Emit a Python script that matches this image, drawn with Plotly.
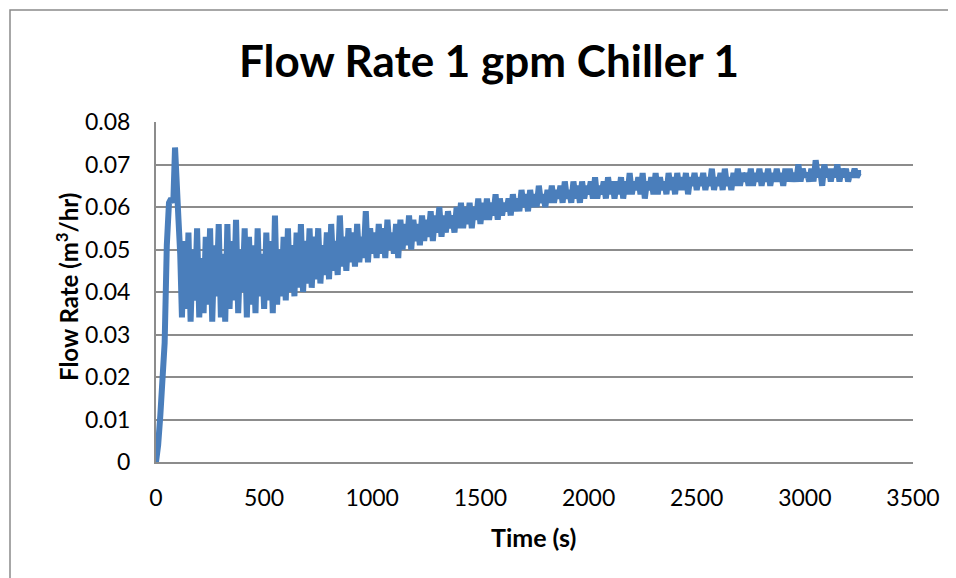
import plotly.graph_objects as go

# Time (s) sample points
time_s = [0, 10, 20, 30, 40, 50, 60, 70, 80, 88, 96, 104, 112, 120,
          130, 140, 150, 160, 170, 180, 190, 200, 210, 220,
          230, 240, 250, 260, 270, 280, 290, 300, 310, 320,
          330, 340, 350, 360, 370, 380, 390, 400, 410, 420,
          430, 440, 450, 460, 470, 480, 490, 500, 510, 520,
          530, 540, 550, 560, 570, 580, 590, 600, 610, 620,
          630, 640, 650, 660, 670, 680, 690, 700, 710, 720,
          730, 740, 750, 760, 770, 780, 790, 800, 810, 820,
          830, 840, 850, 860, 870, 880, 890, 900, 910, 920,
          930, 940, 950, 960, 970, 980, 990, 1000, 1010, 1020,
          1030, 1040, 1050, 1060, 1070, 1080, 1090, 1100, 1110, 1120,
          1130, 1140, 1150, 1160, 1170, 1180, 1190, 1200, 1210, 1220,
          1230, 1240, 1250, 1260, 1270, 1280, 1290, 1300, 1310, 1320,
          1330, 1340, 1350, 1360, 1370, 1380, 1390, 1400, 1410, 1420,
          1430, 1440, 1450, 1460, 1470, 1480, 1490, 1500, 1510, 1520,
          1530, 1540, 1550, 1560, 1570, 1580, 1590, 1600, 1610, 1620,
          1630, 1640, 1650, 1660, 1670, 1680, 1690, 1700, 1710, 1720,
          1730, 1740, 1750, 1760, 1770, 1780, 1790, 1800, 1810, 1820,
          1830, 1840, 1850, 1860, 1870, 1880, 1890, 1900, 1910, 1920,
          1930, 1940, 1950, 1960, 1970, 1980, 1990, 2000, 2010, 2020,
          2030, 2040, 2050, 2060, 2070, 2080, 2090, 2100, 2110, 2120,
          2130, 2140, 2150, 2160, 2170, 2180, 2190, 2200, 2210, 2220,
          2230, 2240, 2250, 2260, 2270, 2280, 2290, 2300, 2310, 2320,
          2330, 2340, 2350, 2360, 2370, 2380, 2390, 2400, 2410, 2420,
          2430, 2440, 2450, 2460, 2470, 2480, 2490, 2500, 2510, 2520,
          2530, 2540, 2550, 2560, 2570, 2580, 2590, 2600, 2610, 2620,
          2630, 2640, 2650, 2660, 2670, 2680, 2690, 2700, 2710, 2720,
          2730, 2740, 2750, 2760, 2770, 2780, 2790, 2800, 2810, 2820,
          2830, 2840, 2850, 2860, 2870, 2880, 2890, 2900, 2910, 2920,
          2930, 2940, 2950, 2960, 2970, 2980, 2990, 3000, 3010, 3020,
          3030, 3040, 3050, 3060, 3070, 3080, 3090, 3100, 3110, 3120,
          3130, 3140, 3150, 3160, 3170, 3180, 3190, 3200, 3210, 3220,
          3230, 3240, 3250, 3260]

# Flow rate (m3/hr)
flow_rate = [0.000, 0.004, 0.011, 0.019, 0.028, 0.051, 0.061, 0.062, 0.061, 0.074, 0.060, 0.057, 0.049, 0.034,
             0.052, 0.036, 0.054, 0.033, 0.050, 0.038, 0.055, 0.034, 0.048, 0.035,
             0.053, 0.037, 0.055, 0.033, 0.051, 0.039, 0.056, 0.034, 0.049, 0.033,
             0.056, 0.036, 0.052, 0.038, 0.057, 0.035, 0.050, 0.040, 0.055, 0.034,
             0.053, 0.037, 0.051, 0.035, 0.055, 0.039, 0.049, 0.036, 0.054, 0.038,
             0.052, 0.035, 0.058, 0.037, 0.050, 0.039, 0.053, 0.038, 0.055, 0.040,
             0.051, 0.039, 0.054, 0.041, 0.056, 0.040, 0.052, 0.042, 0.055, 0.041,
             0.053, 0.043, 0.055, 0.042, 0.051, 0.044, 0.054, 0.043, 0.056, 0.045,
             0.052, 0.044, 0.058, 0.046, 0.053, 0.045, 0.055, 0.047, 0.054, 0.046,
             0.056, 0.047, 0.053, 0.048, 0.059, 0.047, 0.055, 0.049, 0.054, 0.048,
             0.056, 0.049, 0.055, 0.048, 0.057, 0.050, 0.054, 0.049, 0.056, 0.048,
             0.057, 0.050, 0.056, 0.051, 0.058, 0.050, 0.057, 0.052, 0.056, 0.051,
             0.058, 0.052, 0.057, 0.053, 0.059, 0.052, 0.058, 0.054, 0.060, 0.053,
             0.058, 0.054, 0.059, 0.055, 0.058, 0.054, 0.060, 0.055, 0.061, 0.055,
             0.060, 0.056, 0.061, 0.055, 0.060, 0.057, 0.062, 0.056, 0.061, 0.057,
             0.062, 0.057, 0.061, 0.058, 0.063, 0.057, 0.062, 0.058, 0.061, 0.059,
             0.062, 0.058, 0.063, 0.059, 0.062, 0.059, 0.064, 0.060, 0.063, 0.059,
             0.064, 0.060, 0.063, 0.060, 0.065, 0.061, 0.063, 0.060, 0.064, 0.061,
             0.065, 0.061, 0.064, 0.062, 0.065, 0.061, 0.066, 0.062, 0.064, 0.061,
             0.066, 0.062, 0.065, 0.061, 0.066, 0.062, 0.065, 0.063, 0.066, 0.062,
             0.067, 0.062, 0.065, 0.063, 0.066, 0.062, 0.067, 0.063, 0.066, 0.062,
             0.066, 0.063, 0.067, 0.062, 0.066, 0.063, 0.068, 0.063, 0.066, 0.064,
             0.067, 0.063, 0.068, 0.062, 0.066, 0.064, 0.067, 0.063, 0.068, 0.063,
             0.067, 0.064, 0.066, 0.063, 0.068, 0.064, 0.067, 0.063, 0.068, 0.064,
             0.067, 0.064, 0.068, 0.063, 0.067, 0.065, 0.068, 0.064, 0.067, 0.065,
             0.068, 0.064, 0.067, 0.065, 0.069, 0.064, 0.067, 0.065, 0.068, 0.064,
             0.069, 0.065, 0.067, 0.064, 0.068, 0.065, 0.069, 0.065, 0.068, 0.066,
             0.068, 0.065, 0.069, 0.065, 0.068, 0.066, 0.069, 0.065, 0.068, 0.066,
             0.069, 0.065, 0.068, 0.066, 0.069, 0.066, 0.068, 0.065, 0.069, 0.066,
             0.069, 0.066, 0.068, 0.066, 0.070, 0.066, 0.069, 0.067, 0.068, 0.066,
             0.069, 0.066, 0.071, 0.067, 0.069, 0.065, 0.070, 0.067, 0.069, 0.066,
             0.069, 0.067, 0.070, 0.066, 0.069, 0.067, 0.069, 0.066, 0.068, 0.067,
             0.069, 0.067, 0.068, 0.068]

x_ticks = [0, 500, 1000, 1500, 2000, 2500, 3000, 3500]
y_ticks = [0, 0.01, 0.02, 0.03, 0.04, 0.05, 0.06, 0.07, 0.08]

W, H = 948, 570
L, T, PW, PH = 148, 114, 757, 340

fig = go.Figure()
fig.add_trace(go.Scatter(
    x=time_s, y=flow_rate, mode="lines",
    line=dict(color="#4a7ebb", width=6),
    showlegend=False, hoverinfo="x+y",
))

grid_col = "#8c8c8c"
fig.update_layout(
    width=W, height=H,
    paper_bgcolor="white", plot_bgcolor="white",
    margin=dict(l=L, r=W - L - PW, t=T, b=H - T - PH),
    font=dict(family="Lato, Arial, sans-serif", color="black"),
    title=dict(text="<b>Flow Rate 1 gpm Chiller 1</b>", xref="container", x=481 / W, xanchor="center",
               yref="container", y=1 - 54 / H, yanchor="middle", font=dict(size=44, color="black")),
    xaxis=dict(range=[0, 3500], tickvals=x_ticks, showgrid=False,
               showline=True, linecolor=grid_col, linewidth=2,
               ticks="", tickfont=dict(size=23), ticklabelstandoff=14,
               zeroline=False),
    yaxis=dict(range=[0, 0.08], tickvals=y_ticks, showgrid=True,
               gridcolor=grid_col, gridwidth=2,
               showline=True, linecolor=grid_col, linewidth=2,
               ticks="", tickfont=dict(size=23), ticklabelstandoff=19,
               zeroline=False),
    annotations=[
        dict(text="<b>Flow Rate (m<sup>3</sup>/hr)</b>", xref="paper", yref="paper",
             x=(59 - L) / PW, y=(T + PH - 279) / PH, textangle=-90,
             xanchor="center", yanchor="middle", showarrow=False, font=dict(size=24)),
        dict(text="<b>Time (s)</b>", xref="paper", yref="paper",
             x=(525 - L) / PW, y=(T + PH - 529) / PH,
             xanchor="center", yanchor="middle", showarrow=False, font=dict(size=25)),
    ],
    shapes=[dict(type="rect", xref="paper", yref="paper",
                 x0=(2 - L) / PW, x1=1.3, y0=-0.6, y1=(T + PH - 2) / PH,
                 line=dict(color="#8a8a8a", width=1.5), fillcolor="rgba(0,0,0,0)", layer="below")],
)

fig.write_html("out.html")
